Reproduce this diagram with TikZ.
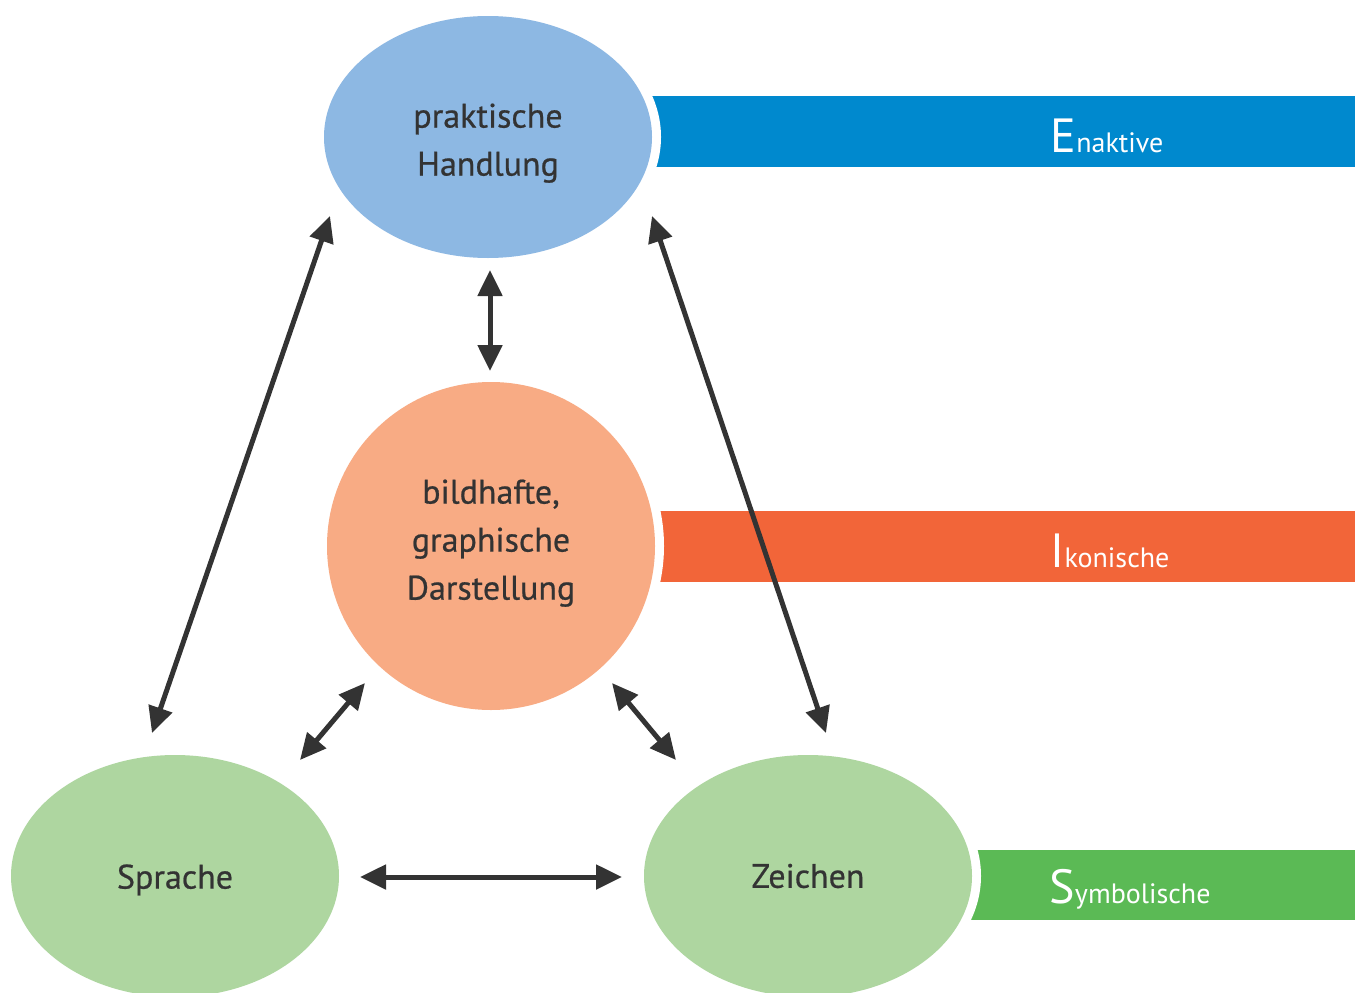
\documentclass[tikz,border=0pt]{standalone}
\usepackage{fontspec}
\setmainfont{PT Sans}
\usetikzlibrary{arrows.meta,calc,shapes.geometric}
\definecolor{eblue}{RGB}{141,184,227}
\definecolor{eorange}{RGB}{248,171,132}
\definecolor{egreen}{RGB}{174,214,160}
\definecolor{bblue}{RGB}{0,137,206}
\definecolor{borange}{RGB}{242,101,57}
\definecolor{bgreen}{RGB}{91,186,85}
\definecolor{ink}{RGB}{51,51,51}
\newcommand{\shifttext}[2]{\raisebox{#1}[\height][\depth]{\begin{tabular}{@{}c@{}}#2\end{tabular}}}
\begin{document}
\begin{tikzpicture}[x=1pt,y=-1pt,
  ell/.style={ellipse,inner sep=0pt,outer sep=0pt,minimum width=328pt,
    text=ink,align=center,font=\fontsize{34}{48}\selectfont\addfontfeature{FakeBold=0.6},
    preaction={draw=white,line width=18pt}},
  bartext/.style={anchor=base,text=white,inner sep=0pt,font=\fontsize{28}{30}\selectfont},
  arr/.style={draw=ink,line width=5pt,{Triangle[length=26pt,width=24pt]}-{Triangle[length=26pt,width=24pt]}}]
\useasboundingbox (0,0) rectangle (1355,993);
% bars
\fill[bblue] (600,96) rectangle (1355,167);
\fill[borange] (600,511) rectangle (1355,582);
\fill[bgreen] (900,850) rectangle (1355,920);
\node[bartext] (t1) at (1107,152) {{\fontsize{48}{48}\selectfont E}naktive};
\node[bartext] (t2) at (1110,567) {{\fontsize{48}{48}\selectfont I}konische};
\node[bartext] (t3) at (1130,903) {{\fontsize{48}{48}\selectfont S}ymbolische};
% ellipses
\node[ell,fill=eblue,minimum height=242pt] (e1) at (488,137) {\shifttext{-5pt}{praktische\\Handlung}};
\node[ell,fill=eorange,minimum height=328pt] (e2) at (491,546) {\shifttext{4pt}{bildhafte,\\graphische\\Darstellung}};
\node[ell,fill=egreen,minimum height=242pt] (e3) at (175,876) {\shifttext{-3pt}{Sprache}};
\node[ell,fill=egreen,minimum height=242pt] (e4) at (808,876) {Zeichen};
% arrows
\draw[arr] ($(e1.south)+(2,12)$) -- ($(e2.north)+(-1,-11)$);
\draw[arr] ($(e1)+(-158,79)$) -- ($(e3)+(-23,-143)$);
\draw[arr] ($(e1)+(164,79)$) -- ($(e4)+(18,-143)$);
\draw[arr] ($(e2)+(-126,137)$) -- ($(e3)+(125,-116)$);
\draw[arr] ($(e2)+(121,137)$) -- ($(e4)+(-132,-116)$);
\draw[arr] ($(e3)+(185,1)$) -- ($(e4)+(-186,1)$);
\end{tikzpicture}
\end{document}
